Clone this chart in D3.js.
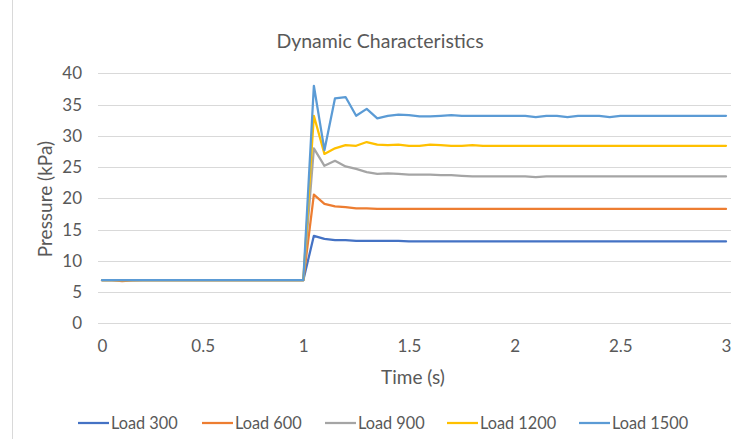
<!DOCTYPE html>
<html><head><meta charset="utf-8">
<script src="https://cdn.jsdelivr.net/npm/d3@7"></script>
<style>html,body{margin:0;padding:0;background:#fff;}svg{display:block;}</style>
</head><body>
<svg id="c" width="734" height="439"></svg>
<script>
const time = [0,0.05,0.1,0.15,0.2,0.25,0.3,0.35,0.4,0.45,0.5,0.55,0.6,0.65,0.7,0.75,0.8,0.85,0.9,0.95,1.0,
  1.05,1.1,1.15,1.2,1.25,1.3,1.35,1.4,1.45,1.5,1.55,1.6,1.65,1.7,1.75,1.8,1.85,1.9,1.95,2.0,
  2.05,2.1,2.15,2.2,2.25,2.3,2.35,2.4,2.45,2.5,2.55,2.6,2.65,2.7,2.75,2.8,2.85,2.9,2.95,3.0];
const load300 = [6.9,6.9,6.9,6.9,6.9,6.9,6.9,6.9,6.9,6.9,6.9,6.9,6.9,6.9,6.9,6.9,6.9,6.9,6.9,6.9,6.9,
  14.0,13.5,13.3,13.3,13.2,13.2,13.2,13.2,13.2,13.1,13.1,13.1,13.1,13.1,13.1,13.1,13.1,13.1,13.1,13.1,
  13.1,13.1,13.1,13.1,13.1,13.1,13.1,13.1,13.1,13.1,13.1,13.1,13.1,13.1,13.1,13.1,13.1,13.1,13.1,13.1];
const load600 = [6.9,6.9,6.75,6.85,6.9,6.9,6.9,6.9,6.9,6.9,6.9,6.9,6.9,6.9,6.9,6.9,6.9,6.9,6.9,6.9,6.9,
  20.6,19.1,18.7,18.6,18.4,18.4,18.3,18.3,18.3,18.3,18.3,18.3,18.3,18.3,18.3,18.3,18.3,18.3,18.3,18.3,
  18.3,18.3,18.3,18.3,18.3,18.3,18.3,18.3,18.3,18.3,18.3,18.3,18.3,18.3,18.3,18.3,18.3,18.3,18.3,18.3];
const load900 = [6.9,6.9,6.9,6.9,6.9,6.9,6.9,6.9,6.9,6.9,6.9,6.9,6.9,6.9,6.9,6.9,6.9,6.9,6.9,6.9,6.9,
  28.0,25.2,26.0,25.1,24.7,24.2,23.9,24.0,23.9,23.8,23.8,23.8,23.7,23.7,23.6,23.5,23.5,23.5,23.5,23.5,
  23.5,23.4,23.5,23.5,23.5,23.5,23.5,23.5,23.5,23.5,23.5,23.5,23.5,23.5,23.5,23.5,23.5,23.5,23.5,23.5];
const load1200 = [6.9,6.9,6.9,6.9,6.9,6.9,6.9,6.9,6.9,6.9,6.9,6.9,6.9,6.9,6.9,6.9,6.9,6.9,6.9,6.9,6.9,
  33.2,27.1,28.0,28.5,28.4,29.0,28.6,28.5,28.6,28.4,28.4,28.6,28.5,28.4,28.4,28.5,28.4,28.4,28.4,28.4,
  28.4,28.4,28.4,28.4,28.4,28.4,28.4,28.4,28.4,28.4,28.4,28.4,28.4,28.4,28.4,28.4,28.4,28.4,28.4,28.4];
const load1500 = [6.9,6.9,6.9,6.9,6.9,6.9,6.9,6.9,6.9,6.9,6.9,6.9,6.9,6.9,6.9,6.9,6.9,6.9,6.9,6.9,6.9,
  38.0,27.7,36.0,36.2,33.2,34.3,32.8,33.2,33.4,33.3,33.1,33.1,33.2,33.3,33.2,33.2,33.2,33.2,33.2,33.2,
  33.2,33.0,33.2,33.2,33.0,33.2,33.2,33.2,33.0,33.2,33.2,33.2,33.2,33.2,33.2,33.2,33.2,33.2,33.2,33.2];
const seriesNames = ["Load 300","Load 600","Load 900","Load 1200","Load 1500"];
const seriesValues = [load300, load600, load900, load1200, load1500];
const seriesColors = ["#4472C4","#ED7D31","#A5A5A5","#FFC000","#5B9BD5"];
const yTicks = [0,5,10,15,20,25,30,35,40];
const xTicks = [0,0.5,1,1.5,2,2.5,3];

const svg = d3.select("#c");
const font = "Lato, 'Open Sans', sans-serif";
const textColor = "#595959";
const x = d3.scaleLinear().domain([0,1,3]).range([102,303.3,726]);
const y = d3.scaleLinear().domain([0,40]).range([323.3,73.3]);

// chart area border (left edge visible)
svg.append("line").attr("x1",12.5).attr("x2",12.5).attr("y1",0).attr("y2",439)
  .attr("stroke","#D9D9D9").attr("stroke-width",1);

// gridlines
svg.append("g").selectAll("line").data(yTicks).join("line")
  .attr("x1", x(0)-4).attr("x2", x(3)+5)
  .attr("y1", d => Math.round(y(d))+0.5).attr("y2", d => Math.round(y(d))+0.5)
  .attr("stroke","#D9D9D9").attr("stroke-width",1);

// y tick labels
const yAxis = d3.axisLeft(y).tickValues(yTicks).tickSize(0).tickPadding(0).tickFormat(d3.format("d"));
const gy = svg.append("g").attr("transform","translate(82,0)").call(yAxis);
gy.select(".domain").remove();
gy.selectAll("text").attr("font-family",font).attr("font-size","17px").attr("fill",textColor);

// x tick labels
const xAxis = d3.axisBottom(x).tickValues(xTicks).tickSize(0).tickPadding(0).tickFormat(d => d3.format("")(d));
const gx = svg.append("g").attr("transform","translate(0,340)").call(xAxis);
gx.select(".domain").remove();
gx.selectAll("text").attr("font-family",font).attr("font-size","17px").attr("fill",textColor).attr("dy","0.71em").attr("y",0);

// lines
const line = d3.line().x((d,i) => x(time[i])).y(d => y(d));
svg.append("g").selectAll("path").data(seriesValues).join("path")
  .attr("d", d => line(d))
  .attr("fill","none")
  .attr("stroke",(d,i) => seriesColors[i])
  .attr("stroke-width",2.25)
  .attr("stroke-linejoin","round").attr("stroke-linecap","round");

// title
svg.append("text").attr("x",380).attr("y",48).attr("text-anchor","middle")
  .attr("font-family",font).attr("font-size","19.5px").attr("fill",textColor)
  .text("Dynamic Characteristics");

// axis titles
svg.append("text").attr("transform","translate(52,199) rotate(-90)").attr("text-anchor","middle")
  .attr("font-family",font).attr("font-size","19px").attr("fill",textColor)
  .text("Pressure (kPa)");
svg.append("text").attr("x",413).attr("y",384).attr("text-anchor","middle")
  .attr("font-family",font).attr("font-size","19px").attr("fill",textColor)
  .text("Time (s)");

// legend
const legendX = [78,202,325,447,579];
const lg = svg.append("g").selectAll("g").data(seriesNames).join("g")
  .attr("transform",(d,i) => `translate(${legendX[i]},423)`);
lg.append("line").attr("x1",0).attr("x2",31).attr("y1",0).attr("y2",0)
  .attr("stroke",(d,i) => seriesColors[i]).attr("stroke-width",2.25);
lg.append("text").attr("x",33).attr("y",0).attr("dy","0.35em")
  .attr("font-family",font).attr("font-size","16.3px").attr("fill",textColor)
  .text(d => d);
</script>
</body></html>
